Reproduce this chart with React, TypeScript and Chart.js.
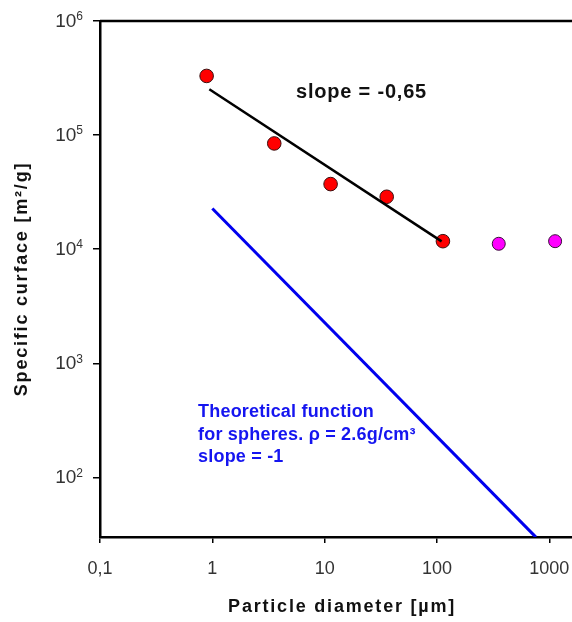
import React, { useEffect, useRef } from "react";
import { Chart, registerables } from "chart.js";

Chart.register(...registerables);

// Measured samples (red) and large-particle samples (magenta)
const sampleDiameters = [0.89, 3.56, 11.3, 35.7, 113];
const sampleSurfaces = [330000, 84500, 37200, 28800, 11750];
const coarseDiameters = [355, 1127];
const coarseSurfaces = [11150, 11750];
// Fitted power law (slope -0.65)
const fitDiameters = [0.94, 110];
const fitSurfaces = [252000, 11700];
// Theoretical function for spheres (slope -1)
const theoryDiameters = [1.0, 760];
const theorySurfaces = [22700, 29.9];

const xTickValues = [0.1, 1, 10, 100, 1000];
const xTickLabels = ["0,1", "1", "10", "100", "1000"];
const yTickValues = [100, 1000, 10000, 100000, 1000000];
const yTickExponents = ["2", "3", "4", "5", "6"];

const xTitle = "Particle diameter [µm]";
const yTitle = "Specific curface [m²/g]";
const fitNote = "slope = -0,65";
const theoryNote = ["Theoretical function", "for spheres. ρ = 2.6g/cm³", "slope = -1"];

const FONT = '"Liberation Sans", Arial, sans-serif';

export default function App() {
  const ref = useRef<HTMLCanvasElement | null>(null);

  useEffect(() => {
    document.body.style.margin = "0";
    document.body.style.overflow = "hidden";
    const canvas = ref.current;
    if (!canvas) return;

    const annotate = {
      id: "annotate",
      afterDraw(chart: any) {
        const ctx = chart.ctx;
        const ys = chart.scales.y;
        const xs = chart.scales.x;
        const area = chart.chartArea;
        ctx.save();
        // y tick labels 10^n
        ctx.fillStyle = "#333";
        ctx.textBaseline = "middle";
        ctx.textAlign = "right";
        yTickValues.forEach((v, i) => {
          const py = ys.getPixelForValue(v);
          ctx.font = `12px ${FONT}`;
          const ew = ctx.measureText(yTickExponents[i]).width;
          ctx.fillText(yTickExponents[i], 83, py - 4);
          ctx.font = `19px ${FONT}`;
          ctx.fillText("10", 83 - ew, py + 0.5);
        });
        // axis titles
        ctx.fillStyle = "#111";
        ctx.font = `bold 18px ${FONT}`;
        (ctx as any).letterSpacing = "1.8px";
        ctx.textAlign = "center";
        ctx.fillText(xTitle, (area.left + area.right) / 2 + 6, area.bottom + 70);
        ctx.save();
        ctx.translate(22, (area.top + area.bottom) / 2);
        ctx.rotate(-Math.PI / 2);
        ctx.fillText(yTitle, 0, 0);
        ctx.restore();
        // slope note
        ctx.textAlign = "left";
        ctx.fillStyle = "#111";
        ctx.font = `bold 20px ${FONT}`;
        (ctx as any).letterSpacing = "0.8px";
        ctx.fillText(fitNote, xs.getPixelForValue(5.56), ys.getPixelForValue(238000));
        // theory note
        ctx.fillStyle = "#1515f0";
        ctx.font = `bold 18px ${FONT}`;
        (ctx as any).letterSpacing = "0.2px";
        const x0 = xs.getPixelForValue(0.746);
        const y0 = ys.getPixelForValue(372);
        theoryNote.forEach((t, i) => ctx.fillText(t, x0, y0 + i * 22.5));
        (ctx as any).letterSpacing = "0px";
        // top frame line
        ctx.strokeStyle = "#000";
        ctx.lineWidth = 2.5;
        ctx.beginPath();
        ctx.moveTo(area.left, area.top);
        ctx.lineTo(area.right, area.top);
        ctx.stroke();
        ctx.restore();
      },
    };

    const chart = new Chart(canvas, {
      type: "scatter",
      data: {
        datasets: [
          {
            label: "theory",
            data: theoryDiameters.map((x, i) => ({ x, y: theorySurfaces[i] })),
            showLine: true,
            borderColor: "#0000ee",
            borderWidth: 3,
            pointRadius: 0,
          },
          {
            label: "fit",
            data: fitDiameters.map((x, i) => ({ x, y: fitSurfaces[i] })),
            showLine: true,
            borderColor: "#000",
            borderWidth: 2.5,
            pointRadius: 0,
          },
          {
            label: "samples",
            data: sampleDiameters.map((x, i) => ({ x, y: sampleSurfaces[i] })),
            backgroundColor: "#ff0000",
            borderColor: "#3a1010",
            borderWidth: 1,
            pointRadius: 6.8,
          },
          {
            label: "coarse",
            data: coarseDiameters.map((x, i) => ({ x, y: coarseSurfaces[i] })),
            backgroundColor: "#ff00ff",
            borderColor: "#3a103a",
            borderWidth: 1,
            pointRadius: 6.5,
          },
        ],
      },
      options: {
        responsive: false,
        animation: false,
        layout: { padding: { top: 21, right: 0, left: 0, bottom: 0 } },
        plugins: { legend: { display: false }, tooltip: { enabled: false } },
        scales: {
          x: {
            type: "logarithmic",
            min: 0.1,
            max: 1600,
            afterBuildTicks: (s: any) => {
              s.ticks = xTickValues.map((v) => ({ value: v }));
            },
            afterFit: (s: any) => {
              s.height = 85;
              s.paddingRight = 0;
              s.paddingLeft = 0;
            },
            ticks: {
              autoSkip: false,
              maxRotation: 0,
              padding: 15,
              color: "#333",
              font: { family: FONT, size: 18 },
              callback: (v: any) => {
                const i = xTickValues.indexOf(Number(v));
                return i >= 0 ? xTickLabels[i] : "";
              },
            },
            grid: { drawOnChartArea: false, drawTicks: true, tickLength: 6, color: "#000", lineWidth: 1.5 },
            border: { display: true, color: "#000", width: 2.5 },
            title: { display: false, text: xTitle },
          },
          y: {
            type: "logarithmic",
            min: 30,
            max: 1000000,
            afterBuildTicks: (s: any) => {
              s.ticks = yTickValues.map((v) => ({ value: v }));
            },
            afterFit: (s: any) => {
              s.width = 100;
              s.paddingTop = 0;
              s.paddingBottom = 0;
            },
            ticks: { display: false },
            grid: { drawOnChartArea: false, drawTicks: true, tickLength: 7, color: "#000", lineWidth: 1.5 },
            border: { display: true, color: "#000", width: 2.5 },
            title: { display: false, text: yTitle },
          },
        },
      },
      plugins: [annotate],
    });

    return () => chart.destroy();
  }, []);

  return (
    <div style={{ width: 572, height: 622, overflow: "hidden", background: "#fff" }}>
      <canvas ref={ref} width={580} height={622} style={{ display: "block" }} />
    </div>
  );
}
